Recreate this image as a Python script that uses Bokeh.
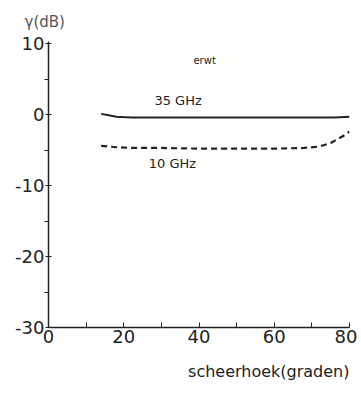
from bokeh.plotting import figure
from bokeh.models import Label, Range1d, FixedTicker, Title
from bokeh.embed import file_html
from bokeh.resources import INLINE

x35 = [14, 16, 18, 22, 30, 40, 50, 60, 70, 76, 80]
y35 = [0.1, -0.1, -0.3, -0.4, -0.4, -0.4, -0.4, -0.4, -0.4, -0.4, -0.3]
x10 = [14, 18, 22, 30, 40, 50, 60, 68, 72, 75, 77, 79, 80]
y10 = [-4.4, -4.6, -4.7, -4.7, -4.8, -4.8, -4.8, -4.7, -4.5, -4.0, -3.4, -2.8, -2.4]
x_ticks = [0, 20, 40, 60, 80]
x_minor = [10, 30, 50, 70]
y_ticks = [-30, -20, -10, 0, 10]
y_minor = [-25, -15, -5, 5]

ink = "#222222"
font = "DejaVu Sans"

p = figure(width=357, height=396, output_backend="svg", toolbar_location=None,
           x_range=Range1d(0, 80), y_range=Range1d(-30, 10.3),
           min_border_left=48, min_border_right=8, min_border_top=41, min_border_bottom=69)
p.outline_line_color = None
p.grid.visible = False
p.background_fill_color = "white"

p.line(x35, y35, line_width=2, color=ink)
p.line(x10, y10, line_width=2.2, color=ink, line_dash="6 4")

for ax in (p.xaxis[0], p.yaxis[0]):
    ax.axis_line_color = ink
    ax.axis_line_width = 1.5
    ax.major_tick_line_color = ink
    ax.minor_tick_line_color = ink
    ax.major_label_text_font = font
    ax.major_label_text_color = ink
    ax.major_label_text_font_size = "18px"

p.xaxis.ticker = FixedTicker(ticks=x_ticks, minor_ticks=x_minor)
p.yaxis.ticker = FixedTicker(ticks=y_ticks, minor_ticks=y_minor)
p.yaxis.major_label_overrides = {t: str(t) for t in y_ticks}
p.xaxis.major_tick_in = 5
p.xaxis.major_tick_out = 0
p.xaxis.minor_tick_in = 5
p.xaxis.minor_tick_out = 0
p.xaxis.major_label_standoff = 2
p.yaxis.major_tick_in = 3
p.yaxis.major_tick_out = 3
p.yaxis.minor_tick_in = 0
p.yaxis.minor_tick_out = 4
p.yaxis.major_label_standoff = 0

p.add_layout(Title(text="γ(dB)", text_font=font, text_font_size="15px",
                   text_color="#555555", text_font_style="normal", align="left",
                   offset=-24, standoff=21), "above")
p.add_layout(Title(text="scheerhoek(graden)", text_font=font, text_font_size="16px",
                   text_color=ink, text_font_style="normal", align="right",
                   offset=0, standoff=28), "below")
p.add_layout(Label(x=41.5, y=7.6, text="erwt", text_font=font, text_font_size="10px",
                   text_color=ink, text_align="center", text_baseline="middle"))
p.add_layout(Label(x=35, y=2.0, text="35  GHz", text_font=font, text_font_size="13px",
                   text_color=ink, text_align="center", text_baseline="middle"))
p.add_layout(Label(x=33.5, y=-6.9, text="10  GHz", text_font=font, text_font_size="13px",
                   text_color=ink, text_align="center", text_baseline="middle"))

open("out.html", "w").write(file_html(p, INLINE))
